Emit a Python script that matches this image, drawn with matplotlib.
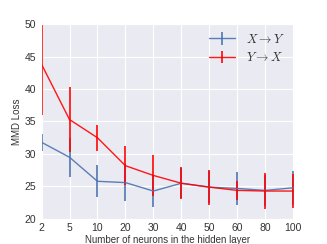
import matplotlib
matplotlib.use("Agg")
import matplotlib.pyplot as plt
import seaborn as sns
import numpy as np

sns.set_style("darkgrid")
plt.rcParams['font.family'] = ['Liberation Sans', 'DejaVu Sans']
plt.rcParams['mathtext.fontset'] = 'cm'

neurons = ["2", "5", "10", "20", "30", "40", "50", "60", "80", "100"]
xy_mean = [31.8, 29.5, 25.8, 25.6, 24.3, 25.5, 24.9, 24.7, 24.4, 24.8]
xy_err = [1.3, 3.0, 2.45, 2.8, 2.5, 2.3, 2.5, 2.6, 2.4, 2.6]
yx_mean = [43.8, 35.3, 32.5, 28.2, 26.7, 25.5, 24.9, 24.4, 24.3, 24.3]
yx_err = [7.8, 5.0, 2.0, 3.0, 3.1, 2.5, 2.7, 1.5, 2.8, 2.6]

fig = plt.figure(figsize=(3.27, 2.44), dpi=100)
ax = fig.add_axes([0.1245, 0.1025, 0.7745, 0.7991])
x = np.arange(len(neurons))
ax.errorbar(x, xy_mean, yerr=xy_err, color='#4c72b0', lw=1.0, elinewidth=1.3,
            label=r'$X \rightarrow Y$', alpha=0.9)
ax.errorbar(x, yx_mean, yerr=yx_err, color='red', lw=1.0, elinewidth=1.3,
            label=r'$Y \rightarrow X$', alpha=0.9)
ax.set_xlim(-0.03, 9.03)
ax.set_ylim(20, 50)
ax.set_xticks(x)
ax.set_xticklabels(neurons)
ax.set_yticks([20, 25, 30, 35, 40, 45, 50])
ax.tick_params(labelsize=7.5, colors='#333333', length=0, pad=3)
ax.set_xlabel("Number of neurons in the hidden layer", fontsize=7, color='#333333', labelpad=1.5)
ax.set_ylabel("MMD Loss", fontsize=7, color='#333333', labelpad=2)
leg = ax.legend(loc='upper right', fontsize=9, frameon=False, handlelength=2.1,
                handletextpad=0.9, labelspacing=0.45, borderaxespad=0.3)
for t in leg.get_texts():
    t.set_color('#333333')
fig.savefig("out.png", dpi=100)
